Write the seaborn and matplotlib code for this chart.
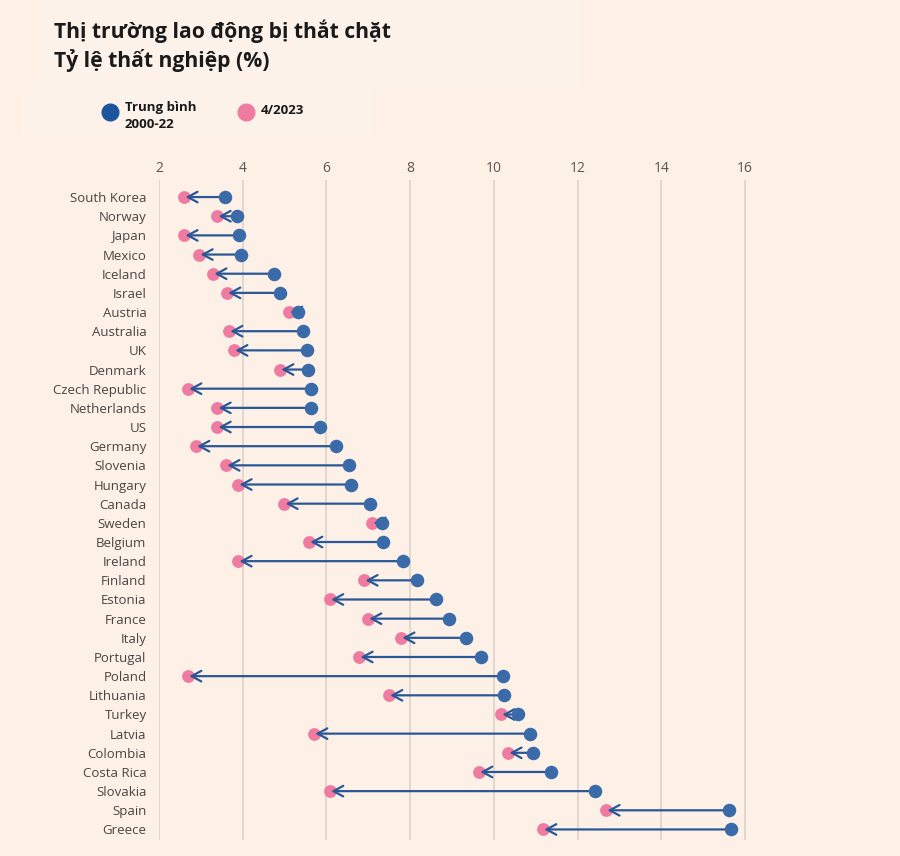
import matplotlib
matplotlib.use("Agg")
import matplotlib.pyplot as plt
import matplotlib.patches as mpatches
from matplotlib.lines import Line2D
import pandas as pd
import seaborn as sns

# data
countries = ["South Korea", "Norway", "Japan", "Mexico", "Iceland", "Israel", "Austria",
             "Australia", "UK", "Denmark", "Czech Republic", "Netherlands", "US", "Germany",
             "Slovenia", "Hungary", "Canada", "Sweden", "Belgium", "Ireland", "Finland",
             "Estonia", "France", "Italy", "Portugal", "Poland", "Lithuania", "Turkey",
             "Latvia", "Colombia", "Costa Rica", "Slovakia", "Spain", "Greece"]
avg_2000_22 = [3.58, 3.86, 3.91, 3.96, 4.75, 4.89, 5.32, 5.44, 5.54, 5.56, 5.63, 5.63, 5.85,
               6.23, 6.54, 6.59, 7.04, 7.33, 7.35, 7.83, 8.16, 8.62, 8.93, 9.33, 9.69, 10.22,
               10.24, 10.58, 10.86, 10.93, 11.36, 12.42, 15.62, 15.66]
apr_2023 = [2.6, 3.39, 2.6, 2.96, 3.29, 3.62, 5.1, 3.67, 3.79, 4.89, 2.69, 3.39, 3.39, 2.88,
            3.6, 3.89, 4.99, 7.09, 5.58, 3.89, 6.9, 6.08, 6.99, 7.78, 6.78, 2.69, 7.49, 10.17,
            5.7, 10.34, 9.64, 6.08, 12.68, 11.17]
x_ticks = [2, 4, 6, 8, 10, 12, 14, 16]

df = pd.DataFrame({"country": countries, "avg": avg_2000_22, "now": apr_2023})
df["pos"] = range(len(df))

bg = "#fdf0e6"
blue = "#3a6ba8"
pink = "#ef7ba1"
line_col = "#2a5796"

sns.set_style("white")
plt.rcParams["font.family"] = ["Open Sans", "DejaVu Sans"]

W, H = 900, 856
fig = plt.figure(figsize=(W / 100, H / 100), dpi=100, facecolor=bg)

# faint boxes behind title and legend
fig.add_artist(mpatches.Rectangle((40 / W, 1 - 88 / H), 540 / W, 88 / H,
                                  transform=fig.transFigure, color="#fdf2ea", zorder=0))
fig.add_artist(mpatches.Rectangle((22 / W, 1 - 135 / H), 350 / W, 45 / H,
                                  transform=fig.transFigure, color="#fdf2ea", zorder=0))

fig.text(54 / W, 1 - 31 / H, "Thị trường lao động bị thắt chặt", fontsize=15.2,
         fontweight="bold", color="#1a1a1a", va="center", ha="left")
fig.text(54 / W, 1 - 60 / H, "Tỷ lệ thất nghiệp (%)", fontsize=15.2,
         fontweight="bold", color="#1a1a1a", va="center", ha="left")

# legend
fig.add_artist(Line2D([110 / W], [1 - 112 / H], marker="o", markersize=12,
                      color="#1d559c", linestyle="none", transform=fig.transFigure))
fig.add_artist(Line2D([246 / W], [1 - 112 / H], marker="o", markersize=12,
                      color=pink, linestyle="none", transform=fig.transFigure))
fig.text(125 / W, 1 - 116 / H, "Trung bình\n2000-22", fontsize=9.5, fontweight="bold",
         color="#1a1a1a", va="center", ha="left", linespacing=1.3)
fig.text(261 / W, 1 - 111 / H, "4/2023", fontsize=9.5, fontweight="bold",
         color="#1a1a1a", va="center", ha="left")

ax = fig.add_axes([159 / W, 1 - 840 / H, (760 - 159) / W, (840 - 180) / H])
ax.set_facecolor(bg)

sns.scatterplot(data=df, x="now", y="pos", color=pink, s=85, linewidth=0, ax=ax, zorder=3)
for _, r in df.iterrows():
    ax.annotate("", xy=(r["now"], r["pos"]), xytext=(r["avg"], r["pos"]),
                arrowprops=dict(arrowstyle="->,head_length=0.7,head_width=0.38",
                                color=line_col, lw=1.6, shrinkA=0, shrinkB=1,
                                mutation_scale=10), zorder=4)
sns.scatterplot(data=df, x="avg", y="pos", color=blue, s=95, linewidth=0, ax=ax, zorder=5)

ax.set_xlim(2, 2 + (760 - 159) / 41.86)
ax.set_ylim(33.55, -0.89)
ax.set_xticks(x_ticks)
ax.set_xticklabels([str(t) for t in x_ticks])
ax.xaxis.tick_top()
ax.set_yticks(df["pos"])
ax.set_yticklabels(df["country"])
ax.tick_params(axis="x", length=0, pad=3, labelsize=10, labelcolor="#5a5552")
ax.tick_params(axis="y", length=0, pad=9, labelsize=9.5, labelcolor="#4a4542")
ax.grid(axis="x", color="#dbd0c6", linewidth=1.1)
ax.set_axisbelow(True)
ax.set_xlabel("")
ax.set_ylabel("")
for s in ax.spines.values():
    s.set_visible(False)

fig.savefig("out.png", dpi=100, facecolor=bg)
